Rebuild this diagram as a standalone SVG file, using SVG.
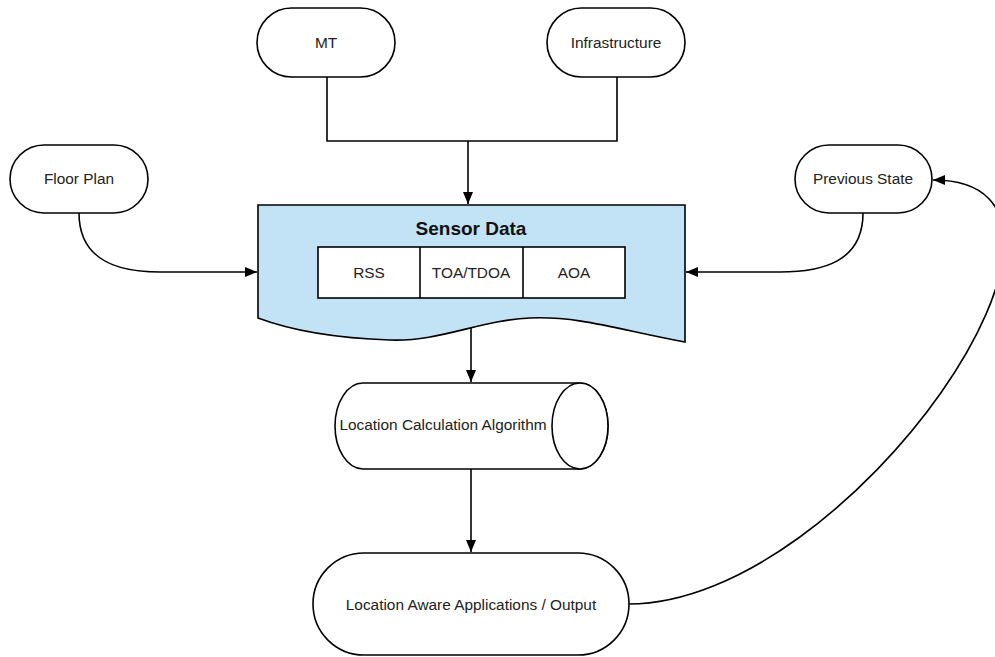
<svg xmlns="http://www.w3.org/2000/svg" width="995" height="657" viewBox="0 0 995 657">
<style>
.n{fill:#fff;stroke:#000;stroke-width:1.6}
.t{font-family:"Liberation Sans",Arial,sans-serif;font-size:15.4px;fill:#222;text-anchor:middle;dominant-baseline:central}
.c{fill:none;stroke:#000;stroke-width:1.6}
</style>
<defs>
<marker id="ah" viewBox="0 0 12 10" refX="12" refY="5" markerWidth="12" markerHeight="10" markerUnits="userSpaceOnUse" orient="auto">
<path d="M0,0 L12,5 L0,10 Z" fill="#000"/>
</marker>
</defs>
<g id="connectors">
<path class="c" d="M327,77 V141 H617 V77"/>
<path class="c" d="M468,141 V204" marker-end="url(#ah)"/>
<path class="c" d="M79,213 C79,262 120,272 160,272 L257,272" marker-end="url(#ah)"/>
<path class="c" d="M863,213 C863,262 822,272 780,272 L686,272" marker-end="url(#ah)"/>
<path class="c" d="M471,327 V382" marker-end="url(#ah)"/>
<path class="c" d="M471,469 V552" marker-end="url(#ah)"/>
<path class="c" d="M629,604 C850,604 1140,180 933,180" marker-end="url(#ah)"/>
</g>
<g id="mt">
<rect class="n" x="257" y="8" width="138" height="69" rx="34.5"/>
<text class="t" x="326" y="42">MT</text>
</g>
<g id="infrastructure">
<rect class="n" x="547" y="8" width="138" height="69" rx="34.5"/>
<text class="t" x="616" y="42">Infrastructure</text>
</g>
<g id="floor-plan">
<rect class="n" x="10" y="145" width="138" height="68" rx="34"/>
<text class="t" x="79" y="178">Floor Plan</text>
</g>
<g id="previous-state">
<rect class="n" x="795" y="145" width="137" height="68" rx="34"/>
<text class="t" x="863" y="178">Previous State</text>
</g>
<g id="sensor-data">
<path d="M258,205 H685 V342 C620,330 580,316 530,318 C480,320 440,342 390,340 C330,338 290,330 258,318 Z" fill="#c2e3f5" stroke="#000" stroke-width="1.6"/>
<text x="471" y="228" font-family="Liberation Sans,Arial,sans-serif" font-size="19" font-weight="bold" fill="#111" text-anchor="middle" dominant-baseline="central">Sensor Data</text>
<rect class="n" x="318" y="247" width="307" height="51"/>
<line class="c" x1="420" y1="247" x2="420" y2="298"/>
<line class="c" x1="523" y1="247" x2="523" y2="298"/>
<text class="t" x="369" y="272">RSS</text>
<text class="t" x="471" y="272">TOA/TDOA</text>
<text class="t" x="574" y="272">AOA</text>
</g>
<g id="location-calculation">
<path class="n" d="M363,383 H580 A28,43 0 0 1 580,469 H363 A28,43 0 0 1 363,383 Z"/>
<ellipse class="n" cx="580" cy="426" rx="28" ry="43"/>
<text class="t" x="443" y="424">Location Calculation Algorithm</text>
</g>
<g id="output">
<rect class="n" x="313" y="553" width="316" height="102" rx="51"/>
<text class="t" x="471" y="604">Location Aware Applications / Output</text>
</g>
</svg>
